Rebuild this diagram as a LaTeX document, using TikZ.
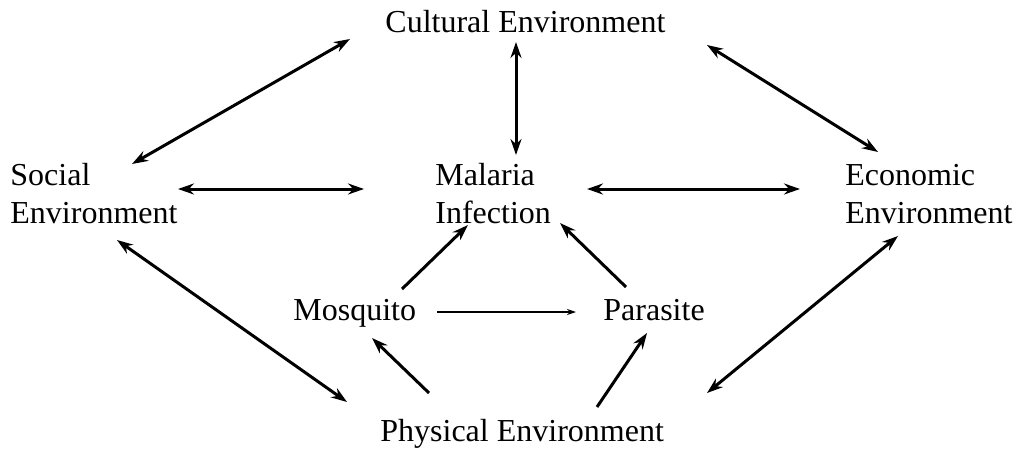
\documentclass[tikz,border=0pt]{standalone}
\usepackage{fontspec}
\setmainfont{Liberation Serif}
\usetikzlibrary{arrows.meta}
\tikzset{lbl/.style={inner sep=0pt,anchor=base west,align=left,font=\fontsize{16}{19}\selectfont},
 arr/.style={-{Stealth[length=8pt,width=5.5pt]},line width=1.5pt},
 dbl/.style={arr,{Stealth[length=8pt,width=5.5pt]}-{Stealth[length=8pt,width=5.5pt]}},
 thin/.style={-{Stealth[length=4.5pt,width=3pt]},line width=1.1pt}}
\begin{document}
\begin{tikzpicture}[x=0.5pt,y=-0.5pt]
\useasboundingbox (0,0) rectangle (1022,449);
\node[lbl] (cult) at (385,33) {Cultural Environment};
\node[lbl] (soc) at (10,223) {Social\\Environment};
\node[lbl] (mal) at (435,223) {Malaria\\Infection};
\node[lbl] (econ) at (845,223) {Economic\\Environment};
\node[lbl] (mosq) at (293,320) {Mosquito};
\node[lbl] (para) at (603,320) {Parasite};
\node[lbl] (phys) at (380,441) {Physical Environment};
% environments
\draw[dbl] ([shift={(-35,6)}]cult.base west) -- ([shift={(122,-59)}]soc.base west);
\draw[dbl] ([shift={(131,9)}]cult.base west) -- ([shift={(81,-68)}]mal.base west);
\draw[dbl] ([shift={(322,12)}]cult.base west) -- ([shift={(33,-71)}]econ.base west);
\draw[dbl] ([shift={(168,-34)}]soc.base west) -- ([shift={(-71,-34)}]mal.base west);
\draw[dbl] ([shift={(152,-34)}]mal.base west) -- ([shift={(-45,-34)}]econ.base west);
\draw[dbl] ([shift={(107,17)}]soc.base west) -- ([shift={(-33,-39)}]phys.base west);
\draw[dbl] ([shift={(53,13)}]econ.base west) -- ([shift={(327,-48)}]phys.base west);
% vector and parasite
\draw[arr] ([shift={(109,-31)}]mosq.base west) -- ([shift={(33,2)}]mal.base west);
\draw[arr] ([shift={(23,-33)}]para.base west) -- ([shift={(125,0)}]mal.base west);
\draw[thin] ([shift={(144,-8)}]mosq.base west) -- ([shift={(-27,-8)}]para.base west);
\draw[arr] ([shift={(49,-48)}]phys.base west) -- ([shift={(79,18)}]mosq.base west);
\draw[arr] ([shift={(217,-34)}]phys.base west) -- ([shift={(44,13)}]para.base west);
\end{tikzpicture}
\end{document}
